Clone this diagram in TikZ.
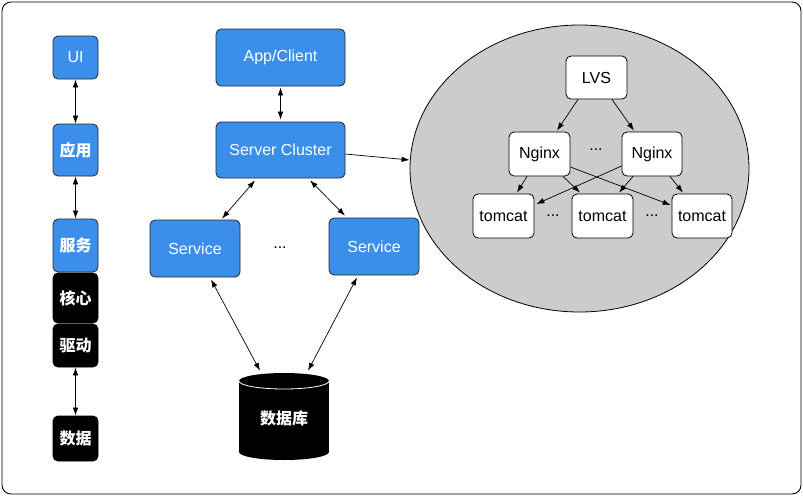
\documentclass[tikz,border=0pt]{standalone}
\usepackage{fontspec}
\setmainfont{Liberation Sans}
\newfontfamily\cjk{Noto Sans CJK SC}
\usetikzlibrary{arrows.meta,shapes.geometric}
\definecolor{boxblue}{RGB}{59,142,234}
\definecolor{clgray}{RGB}{204,204,204}
\begin{document}
\begin{tikzpicture}[x=1pt,y=-1pt,
  font=\fontsize{16}{19}\selectfont,
  bluebox/.style={rectangle,rounded corners=5pt,draw=black!85,line width=0.8pt,fill=boxblue,text=white,inner sep=0pt},
  blackbox/.style={rectangle,rounded corners=5pt,draw=black,line width=0.8pt,fill=black,text=white,inner sep=0pt,font=\fontsize{16}{19}\selectfont\cjk\bfseries},
  whitebox/.style={rectangle,rounded corners=5pt,draw=black,line width=0.8pt,fill=white,text=black,inner sep=0pt},
  cn/.style={font=\fontsize{16}{19}\selectfont\cjk\bfseries},
  conn/.style={line width=0.7pt,-{Latex[length=8pt,width=5.5pt]}},
  bconn/.style={line width=0.7pt,{Latex[length=8pt,width=5.5pt]}-{Latex[length=8pt,width=5.5pt]}}]
\useasboundingbox (0,0) rectangle (803,496);
\draw[line width=0.9pt,rounded corners=9pt] (2,2) rectangle (801,494);

% left column
\node[bluebox,minimum width=45,minimum height=43] (ui) at (75.5,57.5) {UI};
\node[bluebox,cn,minimum width=45,minimum height=52] (yy) at (75.5,150) {应用};
\node[bluebox,cn,minimum width=45,minimum height=53] (fw) at (75.5,245.5) {服务};
\node[blackbox,minimum width=45,minimum height=50] (hx) at (75.5,298) {核心};
\node[blackbox,minimum width=45,minimum height=43] (qd) at (75.5,345.5) {驱动};
\node[blackbox,minimum width=45,minimum height=45] (sj) at (75.5,438.5) {数据};
\draw[bconn] (ui) -- (yy);
\draw[bconn] (yy) -- (fw);
\draw[bconn] (qd) -- (sj);

% middle
\node[bluebox,minimum width=129,minimum height=57] (app) at (280.5,57.5) {App/Client};
\node[bluebox,minimum width=129,minimum height=56] (sc) at (280.5,150) {Server Cluster};
\node[bluebox,minimum width=90,minimum height=57] (s1) at (195,248.5) {Service};
\node[bluebox,minimum width=90,minimum height=57] (s2) at (374,246.5) {Service};
\node (mdots) at (280,248) {...};
\draw[bconn] ([yshift=-1pt]app.south) -- ([yshift=2pt]sc.north);
\draw[bconn] ([xshift=-25.5pt,yshift=-2pt]sc.south) -- ([xshift=27pt,yshift=1pt]s1.north);
\draw[bconn] ([xshift=29.5pt,yshift=-2pt]sc.south) -- ([xshift=-29pt,yshift=2pt]s2.north);

% database cylinder
\fill[black] (239,381) rectangle (329,452);
\fill[black] (284,452) ellipse[x radius=45,y radius=8];
\fill[black] (284,381) ellipse[x radius=45,y radius=8];
\draw[white,line width=0.8pt] (239,381) arc[start angle=180,end angle=0,x radius=45,y radius=8];
\node[cn,text=white,minimum width=90,minimum height=87,inner sep=0pt] (db) at (284,418) {数据库};
\draw[bconn] ([xshift=16pt,yshift=-2pt]s1.south) -- ([xshift=-24pt,yshift=3.5pt]db.north);
\draw[bconn] ([xshift=-17pt,yshift=-2pt]s2.south) -- ([xshift=24pt,yshift=3.5pt]db.north);

% cluster
\node[ellipse,draw=black,line width=0.8pt,fill=clgray,minimum width=339,minimum height=287,inner sep=0pt] (cl) at (579.5,168.5) {};
\draw[conn] ([yshift=-4pt]sc.east) -- ([yshift=8.5pt]cl.west);

\node[whitebox,minimum width=61,minimum height=43] (lvs) at (596.5,77.5) {LVS};
\node[whitebox,minimum width=61,minimum height=44] (n1) at (539.5,154) {Nginx};
\node[whitebox,minimum width=60,minimum height=44] (n2) at (652,154) {Nginx};
\node (ndots) at (596,150) {...};
\node[whitebox,minimum width=61,minimum height=44] (t1) at (503.5,216) {tomcat};
\node[whitebox,minimum width=61,minimum height=44] (t2) at (602.5,216) {tomcat};
\node[whitebox,minimum width=60,minimum height=44] (t3) at (702,216) {tomcat};
\node (tdots1) at (553,216) {...};
\node (tdots2) at (652,216) {...};

\draw[conn] ([xshift=-18.5pt]lvs.south) -- ([xshift=17.5pt,yshift=1pt]n1.north);
\draw[conn] ([xshift=15.5pt]lvs.south) -- ([xshift=-18pt,yshift=1pt]n2.north);
\draw[conn] ([xshift=-12.5pt]n1.south) -- ([xshift=13.5pt,yshift=1pt]t1.north);
\draw[conn] ([xshift=23.5pt]n1.south) -- ([xshift=-22.5pt,yshift=1pt]t2.north);
\draw[conn] ([yshift=-13pt]n1.east) -- ([xshift=-1pt,yshift=11pt]t3.west);
\draw[conn] ([yshift=-12pt]n2.west) -- ([xshift=2pt,yshift=12pt]t1.east);
\draw[conn] ([xshift=-19pt]n2.south) -- ([xshift=16.5pt,yshift=1pt]t2.north);
\draw[conn] ([xshift=18pt]n2.south) -- ([xshift=-19pt,yshift=1pt]t3.north);
\end{tikzpicture}
\end{document}
